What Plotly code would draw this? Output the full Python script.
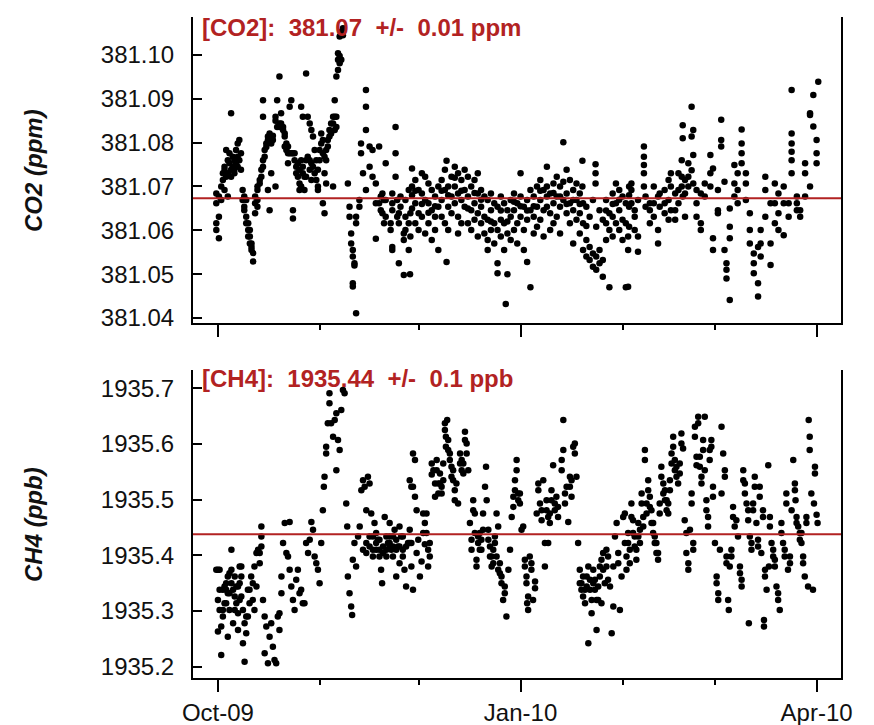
import pandas as pd
import plotly.graph_objects as go

# ---------------- data (day offsets from 2009-10-01) ----------------
co2_day = [-0.5, 0.3, 1.0, 1.5, 2.0, 2.5, 3.0, 3.5, 4.0, 4.5, 5.0, 5.5, 6.0, 6.5, 7.0, 7.5, 8.0, 8.6, 9.2, 9.7,
           10.2, 10.7, 11.3, 12.0, 12.7, 13.2, 13.7, 14.2, 14.7, 15.2, 15.7, 16.2, 16.7, 17.5, 18.0, 18.7, 19.2, 19.8,
           20.3, 20.8, 21.3, 21.8, 22.3, 22.8, 23.3, 23.8, 24.3, 24.8, 25.3, 25.8, 26.3, 26.8, 27.3, 27.9, 28.4, 28.9,
           29.4, 29.9, 30.4, 30.9, 31.4, 31.9, 32.4, 32.9, 33.4, 33.9, 34.4, 35.0, 35.5, 36.0, 36.5, 37.0, 37.5, 38.0,
           39.5, 40.0, 40.5, 41.0, 41.5, 42.0, 43.0, 43.5, 44.1, 45.0, 46.1, 47.0, 48.0, 49.0, 49.5, 50.0, 50.5, 51.0,
           52.5, 53.0, 54.0, 54.5, 55.0, 55.5, 56.5, 57.0, 58.0, 58.4, 58.5,
           59, 60, 61, 62, 63, 64, 65, 66, 67, 68, 69, 69.5, 70, 71, 72, 73, 74, 75, 76, 77, 78, 79, 80, 81, 82, 83,
           84, 85, 86, 87, 87.5, 88, 89, 90, 91, 92, 93, 94, 95, 96, 97, 98, 99, 100, 101, 102, 103, 104, 105, 106,
           107, 108, 109, 110, 110.8, 111, 112, 113, 114, 114.8, 115, 116, 117, 118, 119, 120, 121, 122, 123, 124, 125,
           124.7, 125.7, 126.7, 127.7, 129.5, 130, 131.3, 132.5, 133.8, 134.3, 135.8, 137, 137.7, 139, 140, 141, 141.3,
           142, 143, 144, 144.5, 145.5, 146.8, 148, 149.7, 150.5, 152, 153, 154, 154.6, 155.6, 157, 158, 159.2, 160.5,
           161.7, 162.9, 164.2, 165, 166.4, 168, 169.3, 170.4, 172, 173.5, 174.4, 176, 177, 178.5, 180, 181, 182, 182.5]

co2_ppm = [
    [381.0684, 381.0662, 381.0616, 381.0601], [381.0677, 381.0631, 381.0582], [381.0700, 381.0669],
    [381.0730, 381.0715], [381.0745, 381.0738, 381.0692], [381.0783, 381.0722], [381.0760, 381.0730, 381.0677],
    [381.0776, 381.0753], [381.0867, 381.0738, 381.0722], [381.0768, 381.0745], [381.0760, 381.0738, 381.0730],
    [381.0783, 381.0753], [381.0798, 381.0768, 381.0745], [381.0806, 381.0760], [381.0776, 381.0738],
    [381.0692, 381.0669], [381.0677, 381.0654, 381.0646], [381.0669, 381.0631, 381.0616],
    [381.0616, 381.0601, 381.0586], [381.0601, 381.0586, 381.0570], [381.0570, 381.0562, 381.0555],
    [381.0548, 381.0529], [381.0677, 381.0662, 381.0639], [381.0700, 381.0692, 381.0669, 381.0654],
    [381.0715, 381.0707], [381.0738, 381.0722], [381.0897, 381.0859, 381.0760, 381.0745], [381.0783, 381.0768],
    [381.0798, 381.0790], [381.0814, 381.0806, 381.0692], [381.0821, 381.0806, 381.0646],
    [381.0814, 381.0798, 381.0730], [381.0816, 381.0806], [381.0859, 381.0850, 381.0700], [381.0897, 381.0836],
    [381.0951, 381.0844, 381.0836], [381.0867, 381.0844], [381.0836, 381.0829], [381.0821, 381.0814, 381.0791],
    [381.0798, 381.0783], [381.0791, 381.0776, 381.0753], [381.0882, 381.0776], [381.0897, 381.0776],
    [381.0776, 381.0646, 381.0627], [381.0776, 381.0760], [381.0745, 381.0730], [381.0753, 381.0722],
    [381.0738, 381.0707, 381.0692], [381.0882, 381.0760, 381.0700], [381.0859, 381.0745, 381.0730],
    [381.0722, 381.0692], [381.0958, 381.0760, 381.0722], [381.0859, 381.0768], [381.0844, 381.0760, 381.0738],
    [381.0829, 381.0753, 381.0715], [381.0814, 381.0745], [381.0783, 381.0730], [381.0760, 381.0715],
    [381.0738, 381.0700, 381.0692], [381.0783, 381.0760], [381.0821, 381.0798], [381.0806, 381.0776, 381.0662],
    [381.0768, 381.0730, 381.0639], [381.0783, 381.0760, 381.0707], [381.0806, 381.0791], [381.0829, 381.0814],
    [381.0844, 381.0821], [381.0859, 381.0844, 381.0700], [381.0897, 381.0859, 381.0829],
    [381.0951, 381.0859, 381.0836], [381.1004, 381.0989, 381.0966], [381.1042, 381.0998, 381.0981],
    [381.1053, 381.0989], [381.1061, 381.1045],
    [381.0707], [381.0654, 381.0631], [381.0593, 381.0570], [381.0555, 381.0540, 381.0479, 381.0472],
    [381.0525, 381.0520], [381.0631, 381.0616, 381.0411], [381.0669, 381.0654], [381.0798, 381.0776], [381.0730],
    [381.0920, 381.0882, 381.0829, 381.0692], [381.0791, 381.0745], [381.0783, 381.0722],
    [381.0707, 381.0662, 381.0581], [381.0791, 381.0662], [381.0677, 381.0646], [381.0684, 381.0639],
    [381.0669, 381.0616], [381.0753, 381.0669, 381.0631], [381.0616, 381.0601],
    [381.0684, 381.0662, 381.0646, 381.0562, 381.0555], [381.0836, 381.0776, 381.0722], [381.0669, 381.0631],
    [381.0639, 381.0616, 381.0525], [381.0677, 381.0654], [381.0593, 381.0578, 381.0498],
    [381.0669, 381.0631, 381.0601], [381.0692, 381.0616, 381.0555], [381.0500], [381.0639, 381.0586],
    # 59 .. 125
    [381.0741, 381.0700, 381.0650, 381.0680], [381.0715, 381.0662, 381.0616, 381.0690], [381.0692, 381.0639, 381.0601],
    [381.0730, 381.0684, 381.0631, 381.0660], [381.0722, 381.0669, 381.0593], [381.0707, 381.0662, 381.0616, 381.0640],
    [381.0692, 381.0646, 381.0578], [381.0677, 381.0631, 381.0601, 381.0655], [381.0700, 381.0654, 381.0555],
    [381.0715, 381.0669, 381.0631, 381.0690], [381.0738, 381.0692, 381.0616], [381.0759, 381.0528],
    [381.0700, 381.0654, 381.0601, 381.0680], [381.0722, 381.0677, 381.0639], [381.0745, 381.0700, 381.0662, 381.0720],
    [381.0730, 381.0684, 381.0631, 381.0593], [381.0715, 381.0669, 381.0616, 381.0690], [381.0738, 381.0692, 381.0654],
    [381.0722, 381.0677, 381.0616, 381.0650], [381.0700, 381.0646, 381.0601], [381.0715, 381.0662, 381.0624, 381.0685],
    [381.0730, 381.0684, 381.0639, 381.0586], [381.0692, 381.0654, 381.0616, 381.0670], [381.0677, 381.0631, 381.0593],
    [381.0669, 381.0624, 381.0578, 381.0555], [381.0684, 381.0646, 381.0601, 381.0620], [381.0662, 381.0616, 381.0570],
    [381.0654, 381.0601, 381.0525, 381.0502], [381.0677, 381.0624, 381.0586, 381.0645], [381.0662, 381.0616, 381.0555],
    [381.0432], [381.0646, 381.0593, 381.0500, 381.0620], [381.0669, 381.0631, 381.0578], [381.0684, 381.0646, 381.0601, 381.0665],
    [381.0662, 381.0616, 381.0570], [381.0730, 381.0677, 381.0631, 381.0655], [381.0654, 381.0601, 381.0555],
    [381.0669, 381.0624, 381.0528, 381.0645], [381.0692, 381.0646, 381.0470], [381.0677, 381.0631, 381.0593, 381.0655],
    [381.0700, 381.0654, 381.0608], [381.0715, 381.0669, 381.0624, 381.0690], [381.0692, 381.0646, 381.0586],
    [381.0745, 381.0700, 381.0654, 381.0677], [381.0684, 381.0639, 381.0601], [381.0707, 381.0662, 381.0616, 381.0685],
    [381.0722, 381.0677, 381.0631], [381.0700, 381.0654, 381.0593, 381.0677], [381.0801, 381.0711, 381.0669],
    [381.0738, 381.0684, 381.0639, 381.0660], [381.0715, 381.0662, 381.0616], [381.0692, 381.0646, 381.0570, 381.0669],
    [381.0707, 381.0669, 381.0624], [381.0684, 381.0639, 381.0593, 381.0660], [381.0759, 381.0700],
    [381.0662, 381.0616, 381.0555], [381.0654, 381.0578, 381.0540, 381.0610], [381.0631, 381.0562, 381.0532],
    [381.0669, 381.0547, 381.0517], [381.0751, 381.0730, 381.0707], [381.0608, 381.0540, 381.0510],
    [381.0646, 381.0555, 381.0525], [381.0624, 381.0532, 381.0494], [381.0669, 381.0616, 381.0578, 381.0645],
    [381.0639, 381.0601, 381.0470], [381.0684, 381.0631, 381.0586, 381.0660], [381.0707, 381.0662, 381.0616],
    [381.0692, 381.0646, 381.0601, 381.0670], [381.0677, 381.0624, 381.0578], [381.0662, 381.0616, 381.0470],
    [381.0700, 381.0654, 381.0608, 381.0680],
    # 124.7 .. 182.5
    [381.0471, 381.0555, 381.0586], [381.0692, 381.0707, 381.0662], [381.0646, 381.0631, 381.0601],
    [381.0586, 381.0551, 381.0669], [381.0791, 381.0768, 381.0749, 381.0730, 381.0700], [381.0677, 381.0654],
    [381.0646, 381.0616, 381.0662], [381.0700, 381.0631, 381.0662], [381.0601, 381.0570, 381.0677],
    [381.0654, 381.0684], [381.0662, 381.0639, 381.0692], [381.0715, 381.0669, 381.0624],
    [381.0730, 381.0700, 381.0646], [381.0624, 381.0646, 381.0684], [381.0692, 381.0730, 381.0662],
    [381.0760, 381.0722, 381.0700], [381.0840, 381.0810, 381.0677], [381.0631, 381.0684, 381.0715],
    [381.0753, 381.0722, 381.0700], [381.0814, 381.0882, 381.0737], [381.0829, 381.0772, 381.0707],
    [381.0662, 381.0631, 381.0692], [381.0601, 381.0616, 381.0684], [381.0707, 381.0677],
    [381.0772, 381.0730, 381.0700], [381.0582, 381.0555, 381.0741], [381.0639, 381.0646, 381.0692],
    [381.0852, 381.0806, 381.0791], [381.0711, 381.0555], [381.0525, 381.0510, 381.0490],
    [381.0441, 381.0650, 381.0608, 381.0582], [381.0749, 381.0707, 381.0677], [381.0730, 381.0692, 381.0662],
    [381.0776, 381.0830, 381.0798, 381.0753], [381.0730, 381.0707, 381.0669], [381.0639, 381.0601, 381.0570],
    [381.0547, 381.0525, 381.0502], [381.0479, 381.0449, 381.0562], [381.0601, 381.0540, 381.0570],
    [381.0722, 381.0692, 381.0631], [381.0521, 381.0662, 381.0570], [381.0707, 381.0662, 381.0616],
    [381.0639, 381.0684, 381.0601], [381.0589, 381.0700, 381.0662], [381.0631, 381.0662],
    [381.0821, 381.0798, 381.0779, 381.0760, 381.0730, 381.0920], [381.0662, 381.0646, 381.0677],
    [381.0631, 381.0646], [381.0677, 381.0730, 381.0753], [381.0863, 381.0867, 381.0700], [381.0909, 381.0837],
    [381.0806, 381.0776, 381.0753], [381.0939],
]

ch4_day = [-0.5, 0, 0.5, 1.0, 1.5, 2.0, 2.5, 3.0, 3.5, 4.1, 4.6, 5.1, 5.6, 6.1, 6.6, 7.1, 7.6, 8.1, 8.6, 9.1, 9.6,
           10.1, 10.6, 11.1, 11.7, 12.2, 12.7, 13.2, 13.7, 14.2, 14.7, 15.2, 15.7, 16.2, 16.7, 17.2, 17.7, 18.2, 18.7,
           19.3, 19.8, 20.3, 20.8, 21.3, 21.8, 22.3, 22.8, 23.3, 23.8, 24.3, 24.8, 25.3, 25.8, 26.3, 26.8, 27.4, 27.9,
           28.4, 28.9, 29.4, 29.9, 30.4, 30.9, 31.4, 31.9, 32.2, 32.4, 32.9, 33.4, 33.9, 34.4, 35.0, 35.5, 36.0, 36.5,
           37.0, 37.5, 38.0, 38.5, 39.0, 39.3, 39.5, 40.0, 40.5, 40.8, 41.0, 41.5, 42.0, 42.6, 43.1, 43.6, 44.1, 44.6,
           45.1, 45.6, 46.1, 46.6, 47.1, 47.6, 48.1, 48.6, 49.1, 49.6, 49.9, 50.2, 50.7, 51.2, 51.7, 52.2, 52.7, 53.2,
           53.7, 54.2, 54.7, 55.2, 55.7, 56.2, 56.7, 57.2, 57.8, 58.3, 58.8, 59.3,
           59.9, 60.4, 60.9, 61.4, 61.9, 62.4, 62.9, 63.4, 63.9, 64.4, 65.0, 65.5, 66.0, 66.5, 67.0, 67.5, 68.0, 68.5,
           69.0, 69.3, 69.7, 70.0, 70.5, 71.0, 71.5, 72.0, 72.5, 73.0, 73.6, 74.1, 74.6, 75.1, 75.6, 76.1, 76.6, 77.1,
           77.6, 78.1, 78.6, 79.1, 79.6, 80.1, 80.6, 81.2, 81.5, 81.7, 82.2, 82.7, 83.2, 83.7, 84.2, 84.7, 85.2, 85.7,
           86.2, 86.7, 87.2, 87.7, 88.3, 88.8, 89.3, 89.8, 90.3, 90.8, 91.3, 91.8, 92.3, 92.8, 93.3, 93.8, 94.0, 94.3,
           94.8, 95.3, 95.8, 96.4, 96.9, 97.4, 97.9, 98.4, 98.9, 99.4, 99.9, 100.4, 100.9, 101.4, 101.9, 102.4, 102.9,
           103.4, 104.5, 105.0, 105.5, 106.0, 106.5, 107.0, 107.5, 108.0, 108.5, 109.0, 109.5, 110.0, 110.5, 111.0,
           111.6, 112.1, 112.6, 113.1, 113.6, 114.1, 114.6, 115.1, 115.6, 116.1, 116.6, 117.1, 117.6, 118.1, 118.6,
           119.2, 119.7, 120.2, 120.7, 121.2, 121.7, 122.2, 122.7, 123.2,
           123.7, 124.2, 124.7, 125.2, 125.7, 126.2, 126.7, 127.2, 127.8, 128.3, 128.8, 129.3, 129.8, 130.3, 130.8,
           131.3, 131.8, 132.3, 132.8, 133.3, 133.8, 134.3, 134.8, 135.4, 135.9, 136.4, 136.9, 137.4, 137.9, 138.4,
           138.9, 139.4, 139.9, 140.4, 140.9, 141.4, 141.9, 142.4, 143.0, 143.5, 144.0, 144.5, 145.0, 145.5, 146.0,
           146.5, 147.0, 147.5, 148.0, 148.5, 149.0, 149.5, 150.0, 150.5, 151.1, 151.6, 152.1, 152.6, 153.1, 153.6,
           154.1, 154.6, 155.1, 155.3, 155.6, 156.1, 156.6, 157.1, 157.6, 158.1, 158.7, 159.2, 159.7, 160.2, 160.7,
           161.2, 161.4, 161.7, 162.2, 162.7, 163.2, 163.7, 164.2, 164.7, 165.2, 165.7, 166.0, 166.3, 166.8, 167.3,
           167.5, 167.8, 168.3, 168.8, 169.3, 169.8, 170.3, 170.8, 171.3, 171.8, 172.3, 172.8, 173.3, 173.9, 174.4,
           174.9, 175.4, 175.6, 175.9, 176.4, 176.9, 177.4, 177.9, 178.4, 178.9, 179.4, 179.6, 179.9, 180.4, 180.9,
           181.2, 181.5, 182.0, 182.3]

ch4_ppb = [
    [1935.374], [1935.374, 1935.320, 1935.263], [1935.374, 1935.302, 1935.338], [1935.272, 1935.221],
    [1935.338, 1935.302, 1935.290], [1935.344, 1935.314], [1935.314, 1935.350, 1935.338],
    [1935.254, 1935.332, 1935.362], [1935.368, 1935.332, 1935.302], [1935.410, 1935.350, 1935.374],
    [1935.338, 1935.278], [1935.362, 1935.326, 1935.302], [1935.314, 1935.344], [1935.344, 1935.296, 1935.266],
    [1935.380, 1935.350, 1935.320], [1935.380, 1935.326, 1935.362], [1935.302, 1935.242], [1935.278, 1935.209],
    [1935.290, 1935.260], [1935.338, 1935.290], [1935.314, 1935.338], [1935.362], [1935.320, 1935.350],
    [1935.380, 1935.302], [1935.344, 1935.404], [1935.410], [1935.386, 1935.404], [1935.434, 1935.452, 1935.416],
    [1935.320], [1935.290, 1935.224], [1935.272], [1935.206], [1935.254], [1935.278], [1935.236], [1935.212],
    [1935.206], [1935.290], [1935.266, 1935.296], [1935.362, 1935.332], [1935.422], [1935.458], [1935.404],
    [1935.398], [1935.460, 1935.374], [1935.344], [1935.320], [1935.302], [1935.356], [1935.374], [1935.332],
    [1935.338], [1935.314], [1935.314], [1935.422], [1935.404], [1935.428], [1935.460], [1935.446], [1935.398],
    [1935.386], [1935.374], [1935.350], [1935.422], [1935.481], [1935.523], [1935.541], [1935.595, 1935.583],
    [1935.637], [1935.673, 1935.691], [1935.637], [1935.613], [1935.643], [1935.553, 1935.655], [1935.607],
    [1935.589], [1935.661], [1935.697], [1935.691], [1935.493], [1935.452], [1935.362], [1935.332], [1935.308],
    [1935.293], [1935.392], [1935.422], [1935.380], [1935.434], [1935.452], [1935.517], [1935.535, 1935.410],
    [1935.523], [1935.481, 1935.422, 1935.404], [1935.541], [1935.529, 1935.416, 1935.434], [1935.475],
    [1935.434, 1935.410, 1935.398], [1935.458], [1935.410, 1935.440, 1935.422], [1935.428], [1935.410, 1935.428, 1935.398],
    [1935.374], [1935.350], [1935.416, 1935.404], [1935.469], [1935.434, 1935.410, 1935.398], [1935.422],
    [1935.458, 1935.434, 1935.422, 1935.416], [1935.410], [1935.434, 1935.416, 1935.398], [1935.446],
    [1935.362, 1935.428, 1935.410], [1935.416], [1935.452, 1935.416, 1935.386], [1935.434],
    [1935.410, 1935.434, 1935.398], [1935.374], [1935.344, 1935.416], [1935.422], [1935.535, 1935.446, 1935.422],
    [1935.523, 1935.422, 1935.380], [1935.583, 1935.523, 1935.338],
    [1935.571, 1935.505], [1935.481, 1935.404], [1935.428], [1935.362], [1935.389], [1935.475, 1935.440],
    [1935.458, 1935.420], [1935.475, 1935.440], [1935.410, 1935.380], [1935.422, 1935.398], [1935.565, 1935.545],
    [1935.553], [1935.529, 1935.505], [1935.571, 1935.553], [1935.511, 1935.529], [1935.547, 1935.529],
    [1935.523, 1935.511], [1935.565, 1935.535], [1935.637, 1935.625], [1935.613, 1935.595], [1935.643],
    [1935.607, 1935.589], [1935.583, 1935.571], [1935.559, 1935.541], [1935.553, 1935.535], [1935.517, 1935.499],
    [1935.529], [1935.493], [1935.583, 1935.565], [1935.571, 1935.553], [1935.565, 1935.547], [1935.622, 1935.607],
    [1935.601, 1935.583], [1935.553], [1935.458], [1935.428, 1935.410], [1935.499, 1935.481], [1935.475, 1935.440],
    [1935.392, 1935.380], [1935.434, 1935.422], [1935.410, 1935.440], [1935.428, 1935.410], [1935.475, 1935.446],
    [1935.523], [1935.559], [1935.499], [1935.446, 1935.428], [1935.416, 1935.398], [1935.398, 1935.380],
    [1935.410, 1935.386], [1935.434, 1935.422], [1935.475, 1935.398], [1935.452, 1935.374], [1935.386, 1935.368],
    [1935.362, 1935.350], [1935.320], [1935.344, 1935.332], [1935.290], [1935.374], [1935.410], [1935.469],
    [1935.505, 1935.487], [1935.535, 1935.517], [1935.571, 1935.553], [1935.499, 1935.511], [1935.511, 1935.493],
    [1935.446], [1935.452], [1935.380, 1935.392], [1935.350, 1935.362], [1935.314], [1935.302, 1935.326],
    [1935.398], [1935.374, 1935.386], [1935.320], [1935.341, 1935.353], [1935.475], [1935.529, 1935.517],
    [1935.493], [1935.463, 1935.481], [1935.535], [1935.422, 1935.380], [1935.499, 1935.481], [1935.422, 1935.469],
    [1935.475, 1935.458], [1935.517, 1935.499], [1935.562], [1935.493, 1935.481], [1935.505], [1935.469, 1935.487],
    [1935.571, 1935.553], [1935.643, 1935.589], [1935.493, 1935.511], [1935.523], [1935.460], [1935.541, 1935.523],
    [1935.505, 1935.535], [1935.595], [1935.601, 1935.583], [1935.541], [1935.422], [1935.374, 1935.350],
    [1935.350, 1935.338], [1935.326, 1935.362], [1935.314, 1935.338], [1935.362, 1935.344], [1935.242, 1935.380],
    [1935.338, 1935.356], [1935.296, 1935.320], [1935.374, 1935.350], [1935.338, 1935.356], [1935.266, 1935.320],
    [1935.320, 1935.344], [1935.362, 1935.380], [1935.314, 1935.392], [1935.374, 1935.404], [1935.350],
    [1935.410, 1935.380], [1935.398, 1935.356], [1935.344], [1935.260], [1935.308, 1935.380], [1935.434],
    [1935.458], [1935.386, 1935.404], [1935.302], [1935.362], [1935.469],
    [1935.475, 1935.422], [1935.374, 1935.398], [1935.422, 1935.440], [1935.386, 1935.410], [1935.493, 1935.469],
    [1935.463, 1935.440], [1935.434, 1935.416], [1935.410, 1935.392], [1935.458, 1935.434], [1935.422, 1935.446],
    [1935.511, 1935.493], [1935.469, 1935.452], [1935.589, 1935.571], [1935.493, 1935.475], [1935.535, 1935.517],
    [1935.505, 1935.487], [1935.481, 1935.458], [1935.458, 1935.440], [1935.434, 1935.422], [1935.422, 1935.404],
    [1935.404, 1935.392], [1935.493, 1935.475], [1935.559, 1935.541], [1935.529, 1935.511], [1935.517, 1935.499],
    [1935.499, 1935.481], [1935.493, 1935.475], [1935.535, 1935.517], [1935.583, 1935.565], [1935.613, 1935.595],
    [1935.571, 1935.553], [1935.559, 1935.541], [1935.529], [1935.565, 1935.547], [1935.619, 1935.601],
    [1935.592], [1935.463], [1935.440, 1935.404], [1935.386, 1935.374], [1935.446], [1935.511, 1935.493],
    [1935.422, 1935.410], [1935.631, 1935.613], [1935.562, 1935.577], [1935.649, 1935.637], [1935.577, 1935.559],
    [1935.529, 1935.541], [1935.607, 1935.589], [1935.649, 1935.553], [1935.481, 1935.499], [1935.452, 1935.469],
    [1935.571, 1935.589], [1935.607, 1935.595], [1935.523, 1935.505], [1935.422], [1935.350, 1935.362],
    [1935.320, 1935.332], [1935.410], [1935.631, 1935.511], [1935.583], [1935.553, 1935.541], [1935.386, 1935.398],
    [1935.320], [1935.302], [1935.380], [1935.410, 1935.398], [1935.487, 1935.469], [1935.452], [1935.463],
    [1935.434], [1935.380, 1935.368], [1935.344, 1935.356], [1935.553, 1935.535], [1935.529, 1935.511],
    [1935.493], [1935.481, 1935.463], [1935.278], [1935.434], [1935.410, 1935.422], [1935.493, 1935.481],
    [1935.541, 1935.523], [1935.458], [1935.428, 1935.416], [1935.523, 1935.505], [1935.404], [1935.481, 1935.469],
    [1935.272, 1935.284], [1935.362, 1935.374], [1935.338], [1935.562], [1935.380], [1935.469, 1935.452],
    [1935.422], [1935.410, 1935.398], [1935.380, 1935.392], [1935.344], [1935.320, 1935.332], [1935.302],
    [1935.458, 1935.440], [1935.422], [1935.398, 1935.410], [1935.511, 1935.493], [1935.374], [1935.386, 1935.398],
    [1935.481], [1935.571], [1935.529, 1935.517], [1935.499], [1935.469, 1935.458], [1935.452], [1935.428, 1935.440],
    [1935.440, 1935.422], [1935.398, 1935.386], [1935.362], [1935.469, 1935.458], [1935.344], [1935.643],
    [1935.613, 1935.589], [1935.511], [1935.338], [1935.493], [1935.559, 1935.547], [1935.473], [1935.458],
]

co2_mean = 381.0673
ch4_mean = 1935.4377
co2_ticks = [381.04, 381.05, 381.06, 381.07, 381.08, 381.09, 381.10]
ch4_ticks = [1935.2, 1935.3, 1935.4, 1935.5, 1935.6, 1935.7]
co2_label = "[CO2]:\u00a0 381.07\u00a0 +/-\u00a0 0.01 ppm"
ch4_label = "[CH4]:\u00a0 1935.44\u00a0 +/-\u00a0 0.1 ppb"

# ---------------- build figure ----------------
base = pd.Timestamp("2009-10-01")


def expand(days, vals):
    xs, ys = [], []
    for d, group in zip(days, vals):
        for v in group:
            xs.append(base + pd.Timedelta(days=d))
            ys.append(v)
    return xs, ys


cx, cy = expand(co2_day, co2_ppm)
mx, my = expand(ch4_day, ch4_ppb)

FONT = "Liberation Sans, Arial, sans-serif"
RED = "#B22222"

fig = go.Figure()
fig.add_trace(go.Scatter(x=cx, y=cy, mode="markers", xaxis="x", yaxis="y",
                         marker=dict(color="black", size=6.5), cliponaxis=True))
fig.add_trace(go.Scatter(x=mx, y=my, mode="markers", xaxis="x2", yaxis="y2",
                         marker=dict(color="black", size=6.5), cliponaxis=True))

xrange_ = ["2009-09-23 10:00", "2010-04-08 10:00"]
xcommon = dict(type="date", range=xrange_, showline=True, linecolor="black", linewidth=2,
               ticks="outside", ticklen=12, tickwidth=2, tickcolor="black", automargin=False,
               dtick="M3", tick0="2009-10-01", tickformat="%b-%y", showgrid=False, zeroline=False,
               minor=dict(dtick="M1", tick0="2009-10-01", ticks="outside", ticklen=5, tickwidth=2,
                          tickcolor="black", showgrid=False),
               tickfont=dict(family=FONT, size=24, color="#111"))
ycommon = dict(showline=True, mirror=True, linecolor="black", linewidth=2, ticks="inside", ticklen=9,
               tickwidth=2, tickcolor="black", showgrid=False, zeroline=False, ticklabelstandoff=12,
               automargin=False, tickfont=dict(family=FONT, size=24, color="#111"))

fig.update_layout(
    width=874, height=725, margin=dict(l=193, r=33, t=17, b=47, autoexpand=False),
    plot_bgcolor="white", paper_bgcolor="white", showlegend=False,
    xaxis=dict(domain=[0, 1], anchor="y", showticklabels=False, **xcommon),
    yaxis=dict(domain=[0.5371, 1], anchor="x", range=[381.03886, 381.10867], tickvals=co2_ticks,
               tickformat=".2f", **ycommon),
    xaxis2=dict(domain=[0, 1], anchor="y2", showticklabels=True, **xcommon),
    yaxis2=dict(domain=[0, 0.466], anchor="x2", range=[1935.1797, 1935.7329], tickvals=ch4_ticks,
                tickformat=".1f", **ycommon),
)

fig.add_shape(type="line", xref="x domain", yref="y", x0=0, x1=1, y0=co2_mean, y1=co2_mean,
              line=dict(color=RED, width=2))
fig.add_shape(type="line", xref="x2 domain", yref="y2", x0=0, x1=1, y0=ch4_mean, y1=ch4_mean,
              line=dict(color=RED, width=2))

fig.add_annotation(text="<b>" + co2_label + "</b>", xref="x domain", yref="y domain", x=0.011, y=0.967,
                   xanchor="left", yanchor="middle", showarrow=False,
                   font=dict(family=FONT, size=24, color=RED))
fig.add_annotation(text="<b>" + ch4_label + "</b>", xref="x2 domain", yref="y2 domain", x=0.011, y=0.971,
                   xanchor="left", yanchor="middle", showarrow=False,
                   font=dict(family=FONT, size=24, color=RED))
fig.add_annotation(text="<b><i>CO2 (ppm)</i></b>", xref="paper", yref="y domain", x=-0.2454, y=0.5,
                   xanchor="center", yanchor="middle", textangle=-90, showarrow=False,
                   font=dict(family=FONT, size=24, color="#111"))
fig.add_annotation(text="<b><i>CH4 (ppb)</i></b>", xref="paper", yref="y2 domain", x=-0.2454, y=0.5,
                   xanchor="center", yanchor="middle", textangle=-90, showarrow=False,
                   font=dict(family=FONT, size=24, color="#111"))

fig.write_html("out.html")
